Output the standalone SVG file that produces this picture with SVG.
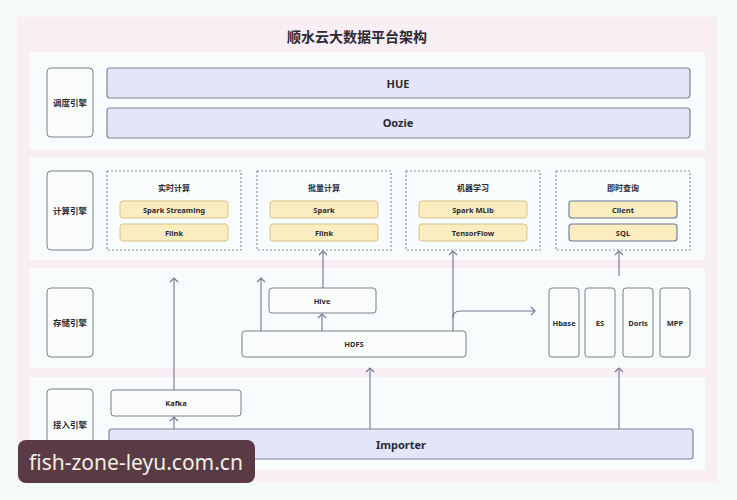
<svg xmlns="http://www.w3.org/2000/svg" width="737" height="500" viewBox="0 0 737 500">
<defs>
<marker id="ar" viewBox="0 0 10 10" refX="9" refY="5" markerWidth="10" markerHeight="10" markerUnits="userSpaceOnUse" orient="auto">
<path d="M5,1 L9,5 L5,9" fill="none" stroke="#6f7690" stroke-width="1.1"/>
</marker>
</defs>
<style>
text{font-family:"Noto Sans","Noto Sans CJK SC",sans-serif;fill:#2a2a35;text-anchor:middle;font-weight:bold}
.lane{fill:#f8fcfc}
.lbl{fill:#fbfdfd;stroke:#7a7f88;stroke-width:1}
.lt{font-size:8.5px}
.bar{fill:#e3e6f8;stroke:#7f8592;stroke-width:1.2}
.grp{fill:none;stroke:#8a8f98;stroke-width:1.2;stroke-dasharray:2,2}
.gt{font-size:8px}
.tan{fill:#fbedbf;stroke:#d6c38c;stroke-width:1}
.tanb{fill:#fbedbf;stroke:#6d7596;stroke-width:1.1}
.it{font-size:7.5px}
.wb{fill:#fbfdfd;stroke:#7a7f88;stroke-width:1}
.conn{fill:none;stroke:#6f7690;stroke-width:1.1}
</style>
<rect width="737" height="500" fill="#f4fafa"/>
<rect x="17" y="17" width="700" height="465" fill="#faeef5"/>
<text x="357" y="42" style="font-size:14px">顺水云大数据平台架构</text>
<rect class="lane" x="30" y="52" width="675" height="97"/>
<rect class="lane" x="30" y="157" width="675" height="103"/>
<rect class="lane" x="30" y="268" width="675" height="100"/>
<rect class="lane" x="30" y="377" width="675" height="93"/>

<g id="lane-schedule">
<rect class="lbl" x="47" y="68" width="46" height="69" rx="4"/>
<text class="lt" x="70" y="106">调度引擎</text>
</g>
<g id="hue">
<rect class="bar" x="107" y="68" width="583" height="30" rx="3"/>
<text x="398" y="88" style="font-size:11px">HUE</text>
</g>
<g id="oozie">
<rect class="bar" x="107" y="108" width="583" height="30" rx="3"/>
<text x="398" y="127" style="font-size:11px">Oozie</text>
</g>

<g id="lane-compute">
<rect class="lbl" x="47" y="171" width="46" height="79" rx="4"/>
<text class="lt" x="70" y="214">计算引擎</text>
</g>
<g id="realtime">
<rect class="grp" x="107" y="171" width="134" height="79"/>
<text class="gt" x="174" y="191">实时计算</text>
<rect class="tan" x="120" y="201" width="108" height="17" rx="3"/>
<text class="it" x="174" y="212.5">Spark Streaming</text>
<rect class="tan" x="120" y="224" width="108" height="17" rx="3"/>
<text class="it" x="174" y="235.5">Flink</text>
</g>
<g id="batch">
<rect class="grp" x="257" y="171" width="134" height="79"/>
<text class="gt" x="324" y="191">批量计算</text>
<rect class="tan" x="270" y="201" width="108" height="17" rx="3"/>
<text class="it" x="324" y="212.5">Spark</text>
<rect class="tan" x="270" y="224" width="108" height="17" rx="3"/>
<text class="it" x="324" y="235.5">Flink</text>
</g>
<g id="ml">
<rect class="grp" x="406" y="171" width="134" height="79"/>
<text class="gt" x="473" y="191">机器学习</text>
<rect class="tan" x="419" y="201" width="108" height="17" rx="3"/>
<text class="it" x="473" y="212.5">Spark MLib</text>
<rect class="tan" x="419" y="224" width="108" height="17" rx="3"/>
<text class="it" x="473" y="235.5">TensorFlow</text>
</g>
<g id="query">
<rect class="grp" x="556" y="171" width="134" height="79"/>
<text class="gt" x="623" y="191">即时查询</text>
<rect class="tanb" x="569" y="201" width="108" height="17" rx="3"/>
<text class="it" x="623" y="212.5">Client</text>
<rect class="tanb" x="569" y="224" width="108" height="17" rx="3"/>
<text class="it" x="623" y="235.5">SQL</text>
</g>

<g id="lane-storage">
<rect class="lbl" x="47" y="288" width="46" height="69" rx="4"/>
<text class="lt" x="70" y="326">存储引擎</text>
</g>
<g id="hive">
<rect class="wb" x="269" y="288" width="107" height="25" rx="3"/>
<text class="it" x="322" y="303.5">Hive</text>
</g>
<g id="hdfs">
<rect class="wb" x="242" y="331" width="224" height="26" rx="3"/>
<text class="it" x="354" y="347">HDFS</text>
</g>
<g id="hbase">
<rect class="wb" x="549" y="288" width="30" height="69" rx="3"/>
<text class="it" x="564" y="326">Hbase</text>
</g>
<g id="es">
<rect class="wb" x="585" y="288" width="30" height="69" rx="3"/>
<text class="it" x="600" y="326">ES</text>
</g>
<g id="doris">
<rect class="wb" x="623" y="288" width="30" height="69" rx="3"/>
<text class="it" x="638" y="326">Doris</text>
</g>
<g id="mpp">
<rect class="wb" x="660" y="288" width="30" height="69" rx="3"/>
<text class="it" x="675" y="326">MPP</text>
</g>

<g id="lane-ingest">
<rect class="lbl" x="47" y="389" width="46" height="69" rx="4"/>
<text class="lt" x="70" y="428">接入引擎</text>
</g>
<g id="kafka">
<rect class="wb" x="111" y="390" width="130" height="26" rx="3"/>
<text class="it" x="176" y="406">Kafka</text>
</g>
<g id="importer">
<rect class="bar" x="109" y="429" width="584" height="30" rx="3"/>
<text x="401" y="449" style="font-size:11px">Importer</text>
</g>

<g id="connectors">
<path class="conn" d="M174,390 V278" marker-end="url(#ar)"/>
<path class="conn" d="M174,429 V417" marker-end="url(#ar)"/>
<path class="conn" d="M323,288 V251" marker-end="url(#ar)"/>
<path class="conn" d="M322,331 V314" marker-end="url(#ar)"/>
<path class="conn" d="M261,331 V278" marker-end="url(#ar)"/>
<path class="conn" d="M453,331 V251" marker-end="url(#ar)"/>
<path class="conn" d="M453,318 Q453,311 460,311 H535" marker-end="url(#ar)"/>
<path class="conn" d="M370,429 V368" marker-end="url(#ar)"/>
<path class="conn" d="M619,429 V368" marker-end="url(#ar)"/>
<path class="conn" d="M619,276 V251" marker-end="url(#ar)"/>
</g>

<g id="watermark">
<rect x="18" y="440" width="237" height="43" rx="8" fill="#5a3a45"/>
<text x="136" y="470" style="font-size:21px;font-weight:normal;fill:#f1f0e2">fish-zone-leyu.com.cn</text>
</g>
</svg>
